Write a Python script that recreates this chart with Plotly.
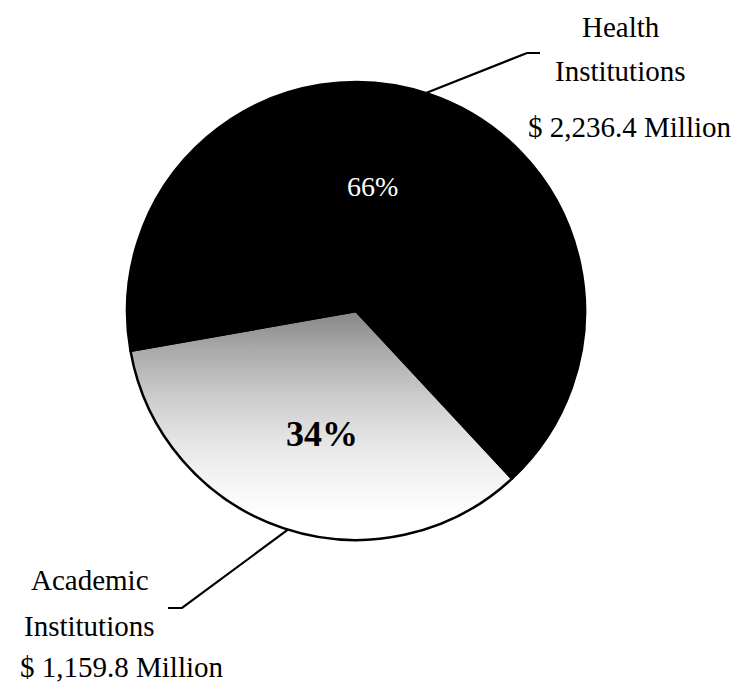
import base64
import math

import plotly.graph_objects as go

# Funding by recipient type (millions of dollars)
categories = ["Health Institutions", "Academic Institutions"]
funding_millions = [2236.4, 1159.8]
name_lines = [["Health", "Institutions"], ["Academic", "Institutions"]]
slice_colors = ["#000000", "rgba(0,0,0,0)"]   # second slice shows the shaded backdrop

W, H = 738, 691
CX, CY, R = 356, 311, 229          # pie centre and radius in pixels
ROTATION = 260                      # start of first slice, clockwise from 12 o'clock
SERIF = "Liberation Serif, Times New Roman, serif"

total = sum(funding_millions)
shares = [v / total for v in funding_millions]


def paper(x, y):
    """Pixel position -> paper fraction (margins are zero)."""
    return x / W, 1 - y / H


x0, y1 = paper(CX - R, CY - R)
x1, y0 = paper(CX + R, CY + R)

fig = go.Figure(go.Pie(
    labels=categories,
    values=funding_millions,
    sort=False,
    direction="clockwise",
    rotation=ROTATION,
    domain=dict(x=[x0, x1], y=[y0, y1]),
    marker=dict(colors=slice_colors, line=dict(color="#000000", width=2.5)),
    textinfo="none",
    hoverinfo="skip",
    showlegend=False,
))

# vertical grey fade behind the pie, visible through the transparent slice
fade = [(0.00, "#7a7a7a"), (0.50, "#858585"), (0.58, "#a8a8a8"), (0.69, "#cdcdcd"),
        (0.78, "#e4e4e4"), (0.87, "#f4f4f4"), (0.95, "#ffffff"), (1.00, "#ffffff")]
stops = "".join(f"<stop offset='{o}' stop-color='{c}'/>" for o, c in fade)
svg = (
    "<svg xmlns='http://www.w3.org/2000/svg' width='200' height='200' "
    "viewBox='0 0 100 100' preserveAspectRatio='none'>"
    f"<defs><linearGradient id='g' x1='0' y1='0' x2='0' y2='1'>{stops}</linearGradient></defs>"
    "<circle cx='50' cy='50' r='49.8' fill='url(#g)'/></svg>"
)
src = "data:image/svg+xml;base64," + base64.b64encode(svg.encode()).decode()

annotations = []

# percentage labels
pct_pos = [(372, 186), (322, 434)]
pct_style = [dict(color="white", size=28, family=SERIF),
             dict(color="black", size=36, family=SERIF, weight="bold")]
for share, (x, y), st in zip(shares, pct_pos, pct_style):
    px, py = paper(x, y)
    annotations.append(dict(
        x=px, y=py, xref="paper", yref="paper", showarrow=False,
        text=f"{share * 100:.0f}%", font=st,
        xanchor="center", yanchor="middle",
    ))

# outside category labels with amounts
label_rows = [
    [(621, 27), (620, 71), (630, 127)],
    [(90, 580), (89, 626), (122, 667)],
]
for lines, value, rows in zip(name_lines, funding_millions, label_rows):
    texts = lines + [f"$ {value:,.1f} Million"]
    for txt, (x, y) in zip(texts, rows):
        px, py = paper(x, y)
        annotations.append(dict(
            x=px, y=py, xref="paper", yref="paper", showarrow=False,
            text=txt, font=dict(color="black", size=29, family=SERIF),
            xanchor="center", yanchor="middle",
        ))

# leader lines: from the rim of the pie to an elbow, then a short horizontal run
leaders = [
    (17.8, (527, 53), (540, 53)),
    (197.3, (182, 608), (168, 608)),
]
shapes = []
for ang, elbow, end in leaders:
    a = math.radians(ang)
    sx, sy = CX + R * math.sin(a), CY - R * math.cos(a)
    pts = [paper(sx, sy), paper(*elbow), paper(*end)]
    path = "M {} {} L {} {} L {} {}".format(*[c for p in pts for c in p])
    shapes.append(dict(type="path", xref="paper", yref="paper", path=path,
                       line=dict(color="black", width=2.2)))

fig.update_layout(
    width=W, height=H,
    margin=dict(l=0, r=0, t=0, b=0),
    paper_bgcolor="white", plot_bgcolor="white",
    annotations=annotations,
    shapes=shapes,
    images=[dict(
        source=src, xref="paper", yref="paper",
        x=x0, y=y1, sizex=x1 - x0, sizey=y1 - y0,
        xanchor="left", yanchor="top", sizing="stretch", layer="below",
    )],
)

fig.write_html("out.html")
